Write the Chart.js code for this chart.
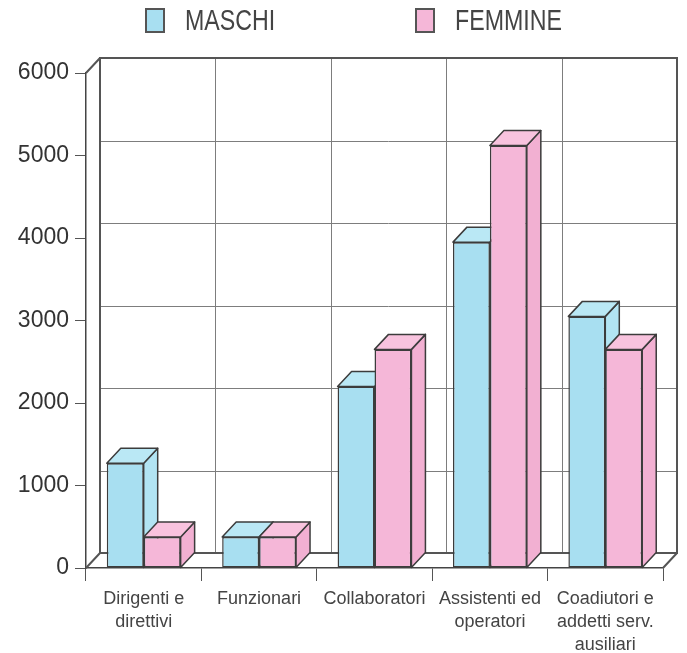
<!DOCTYPE html>
<html lang="it">
<head>
  <meta charset="UTF-8">
  <title>Maschi e femmine per qualifica</title>
  <script src="https://cdn.jsdelivr.net/npm/chart.js"></script>
  <style>
    body { margin: 0; background: #fff; }
    .wrap { position: relative; width: 687px; height: 653px; }
    canvas { position: absolute; left: 0; top: 0; }
    .legend { position: absolute; left: 0; top: 0; width: 687px; height: 45px; font-family: "Liberation Sans", Arial, sans-serif; color: #444; }
    .legend .item { position: absolute; top: 4px; display: flex; align-items: center; font-size: 29px; }
    .legend .box { width: 16px; height: 21px; border: 2px solid #555; margin-right: 20px; }
    .legend .txt { display: inline-block; transform: scaleX(0.8); transform-origin: left center; }
  </style>
</head>
<body>
  <div class="wrap">
    <canvas id="chart" width="687" height="653"></canvas>
    <div class="legend" id="legend"></div>
  </div>

  <script>
    // dati
    const categorie = [
      ['Dirigenti e', 'direttivi'],
      'Funzionari',
      'Collaboratori',
      ['Assistenti ed', 'operatori'],
      ['Coadiutori e', 'addetti serv.', 'ausiliari']
    ];
    const maschi = [1270, 375, 2200, 3950, 3050];
    const femmine = [375, 375, 2650, 5120, 2650];
    const tickY = [0, 1000, 2000, 3000, 4000, 5000, 6000];

    const DX = 14, DY = 15;
    const colori = {
      maschi: { front: '#a8dff1', side: '#b2e4f3', top: '#bae8f5' },
      femmine: { front: '#f5b7d8', side: '#f2b0d2', top: '#f8c3de' }
    };

    // parete di fondo, pavimento e facce laterali/superiori delle barre
    const prospettiva = {
      id: 'prospettiva',
      beforeDatasetsDraw(chart) {
        const { ctx, chartArea: a, scales: { x, y } } = chart;
        ctx.save();
        // griglia sulla parete di fondo
        ctx.strokeStyle = '#7d7d7d';
        ctx.lineWidth = 1;
        tickY.forEach(v => {
          const py = Math.round(y.getPixelForValue(v) - DY) + 0.5;
          ctx.beginPath(); ctx.moveTo(a.left + DX, py); ctx.lineTo(a.right + DX, py); ctx.stroke();
        });
        for (let i = 1; i < categorie.length; i++) {
          const px = Math.round((x.getPixelForValue(i - 1) + x.getPixelForValue(i)) / 2 + DX) + 0.5;
          ctx.beginPath(); ctx.moveTo(px, a.top - DY); ctx.lineTo(px, a.bottom - DY); ctx.stroke();
        }
        // bordo parete e spigoli
        ctx.strokeStyle = '#555';
        ctx.lineWidth = 2;
        ctx.strokeRect(a.left + DX, a.top - DY, a.right - a.left, a.bottom - a.top);
        ctx.beginPath();
        ctx.moveTo(a.left, a.top); ctx.lineTo(a.left + DX, a.top - DY);
        ctx.moveTo(a.left, a.bottom); ctx.lineTo(a.left + DX, a.bottom - DY);
        ctx.moveTo(a.right, a.bottom); ctx.lineTo(a.right + DX, a.bottom - DY);
        ctx.stroke();

        // facce laterali e superiori, categoria per categoria
        ctx.strokeStyle = '#3c3c3c';
        ctx.lineWidth = 1.5;
        ctx.lineJoin = 'round';
        const chiavi = ['maschi', 'femmine'];
        for (let i = 0; i < categorie.length; i++) {
          chart.data.datasets.forEach((ds, d) => {
            const bar = chart.getDatasetMeta(d).data[i];
            const c = colori[chiavi[d]];
            const l = bar.x - bar.width / 2, r = bar.x + bar.width / 2;
            const t = bar.y, b = bar.base;
            ctx.fillStyle = c.side;
            ctx.beginPath();
            ctx.moveTo(r, t); ctx.lineTo(r + DX, t - DY); ctx.lineTo(r + DX, b - DY); ctx.lineTo(r, b);
            ctx.closePath(); ctx.fill(); ctx.stroke();
            ctx.fillStyle = c.top;
            ctx.beginPath();
            ctx.moveTo(l, t); ctx.lineTo(l + DX, t - DY); ctx.lineTo(r + DX, t - DY); ctx.lineTo(r, t);
            ctx.closePath(); ctx.fill(); ctx.stroke();
          });
        }
        ctx.restore();
      }
    };

    const chart = new Chart(document.getElementById('chart'), {
      type: 'bar',
      data: {
        labels: categorie,
        datasets: [
          { label: 'MASCHI', data: maschi, backgroundColor: colori.maschi.front },
          { label: 'FEMMINE', data: femmine, backgroundColor: colori.femmine.front }
        ]
      },
      options: {
        responsive: false,
        animation: false,
        events: [],
        layout: { padding: { top: 73, right: 24, left: 0, bottom: 0 } },
        datasets: {
          bar: { barPercentage: 1, categoryPercentage: 0.64, borderColor: '#3c3c3c', borderWidth: 1.5, borderSkipped: false }
        },
        plugins: { legend: { display: false }, tooltip: { enabled: false } },
        scales: {
          x: {
            afterFit(s) { s.height = 85; },
            grid: { display: true, drawOnChartArea: false, drawTicks: true, tickLength: 13, color: '#555', offset: true },
            border: { display: true, color: '#444', width: 1.5 },
            ticks: { color: '#444', padding: 6, maxRotation: 0, autoSkip: false, font: { family: 'Liberation Sans', size: 18, lineHeight: 1.3 } }
          },
          y: {
            min: 0, max: 6000,
            afterFit(s) { s.width = 86; },
            afterBuildTicks(s) { s.ticks = tickY.map(v => ({ value: v })); },
            grid: { display: true, drawOnChartArea: false, drawTicks: true, tickLength: 11, color: '#555' },
            border: { display: true, color: '#444', width: 1.5 },
            ticks: { color: '#333', padding: 6, callback: v => String(v), font: { family: 'Liberation Sans', size: 23 } }
          }
        }
      },
      plugins: [prospettiva]
    });

    // legenda
    const legenda = document.getElementById('legend');
    const posLegenda = [145, 415];
    chart.data.datasets.forEach((ds, i) => {
      const item = document.createElement('div');
      item.className = 'item';
      item.style.left = posLegenda[i] + 'px';
      item.innerHTML = '<span class="box" style="background:' + ds.backgroundColor + '"></span><span class="txt">' + ds.label + '</span>';
      legenda.appendChild(item);
    });
  </script>
</body>
</html>
